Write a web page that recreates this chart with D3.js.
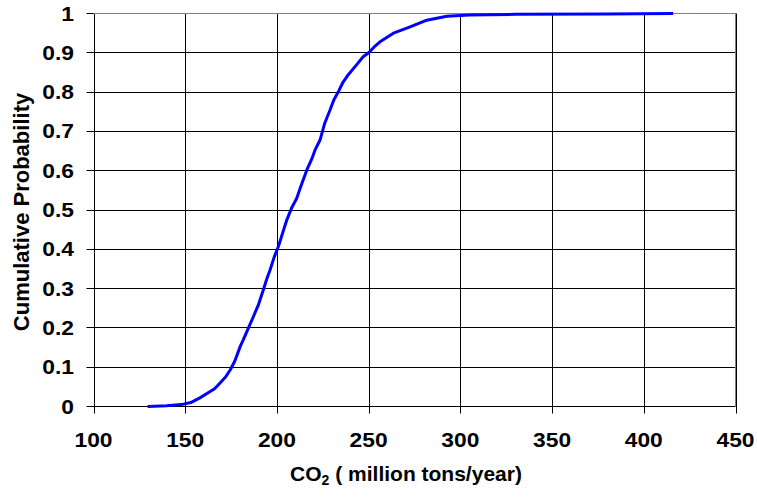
<!DOCTYPE html>
<html>
<head>
<meta charset="utf-8">
<script src="https://cdn.jsdelivr.net/npm/d3@7"></script>
<style>
  html, body { margin: 0; padding: 0; background: #fff; }
  svg { display: block; font-family: "Liberation Sans", Arial, sans-serif; }
</style>
</head>
<body>
<svg id="chart" width="757" height="497"></svg>
<script>
// Empirical cumulative distribution of CO2 emissions
const co2Values = [129.5, 140, 149, 153, 158, 163.6, 166, 169, 172, 174.5, 177, 180, 181.7, 184, 187.2, 190, 192.6, 194.5, 196.3, 198.5, 200.8, 203, 205.4, 208, 210.8, 213, 216.3, 219, 221, 223.5, 226, 229, 231, 233.4, 236, 239, 243.5, 247, 250, 253, 256.2, 263.5, 272.6, 281.7, 292.6, 305, 330, 380, 416];
const cumProb   = [0, 0.002, 0.006, 0.01, 0.022, 0.038, 0.045, 0.06, 0.075, 0.093, 0.115, 0.153, 0.17, 0.195, 0.229, 0.26, 0.297, 0.325, 0.348, 0.38, 0.407, 0.44, 0.475, 0.505, 0.53, 0.56, 0.602, 0.63, 0.655, 0.678, 0.72, 0.755, 0.78, 0.8, 0.825, 0.845, 0.87, 0.89, 0.9, 0.915, 0.928, 0.95, 0.966, 0.983, 0.993, 0.996, 0.998, 0.999, 1.0];
const xTicks = [100, 150, 200, 250, 300, 350, 400, 450];
const yTicks = [0, 0.1, 0.2, 0.3, 0.4, 0.5, 0.6, 0.7, 0.8, 0.9, 1];
const yTickLabels = ["0", "0.1", "0.2", "0.3", "0.4", "0.5", "0.6", "0.7", "0.8", "0.9", "1"];

const svg = d3.select("#chart");
const plotLeft = 93.5, plotRight = 735.5, plotTop = 13.5, plotBottom = 406.5;

const x = d3.scaleLinear().domain([100, 450]).range([plotLeft, plotRight]);
const y = d3.scaleLinear().domain([0, 1]).range([plotBottom, plotTop]);

// Grid lines with tick stubs outside the plot
const grid = svg.append("g").attr("stroke", "#000").attr("stroke-width", 1);
grid.selectAll("line.v").data(xTicks).join("line")
  .attr("x1", d => Math.round(x(d)) + 0.5).attr("x2", d => Math.round(x(d)) + 0.5)
  .attr("y1", plotTop).attr("y2", plotBottom + 7);
grid.selectAll("line.h").data(yTicks).join("line")
  .attr("x1", plotLeft - 7).attr("x2", plotRight)
  .attr("y1", d => Math.round(y(d) - 0.5) + 0.5).attr("y2", d => Math.round(y(d) - 0.5) + 0.5);

// Plot border (top and right)
svg.append("path")
  .attr("d", `M${plotLeft},${plotTop}H${plotRight}V${plotBottom}`)
  .attr("fill", "none").attr("stroke", "#808080").attr("stroke-width", 1);

// Tick labels (slightly wide bold digits)
svg.append("g").selectAll("text").data(xTicks).join("text")
  .attr("transform", d => `translate(${x(d)},447) scale(1.14,1)`)
  .attr("text-anchor", "middle")
  .attr("font-size", 20).attr("font-weight", "bold")
  .text(d => d);

svg.append("g").selectAll("text").data(yTicks).join("text")
  .attr("transform", d => `translate(74,${y(d) + 7}) scale(1.14,1)`)
  .attr("text-anchor", "end")
  .attr("font-size", 20).attr("font-weight", "bold")
  .text((d, i) => yTickLabels[i]);

// Axis titles
const xt = svg.append("text")
  .attr("x", 406).attr("y", 481)
  .attr("text-anchor", "middle")
  .attr("font-size", 21).attr("font-weight", "bold");
xt.append("tspan").text("CO");
xt.append("tspan").attr("font-size", 14).attr("dy", 4).text("2");
xt.append("tspan").attr("dy", -4).text(" ( million tons/year)");

svg.append("text")
  .attr("transform", "translate(28.5,212) rotate(-90)")
  .attr("text-anchor", "middle")
  .attr("font-size", 22).attr("font-weight", "bold")
  .text("Cumulative Probability");

// CDF curve
const pts = co2Values.map((v, i) => [v, cumProb[i]]);
svg.append("path")
  .datum(pts)
  .attr("fill", "none")
  .attr("stroke", "#0000ff")
  .attr("stroke-width", 3)
  .attr("stroke-linejoin", "round")
  .attr("d", d3.line().x(d => x(d[0])).y(d => y(d[1])));
</script>
</body>
</html>
